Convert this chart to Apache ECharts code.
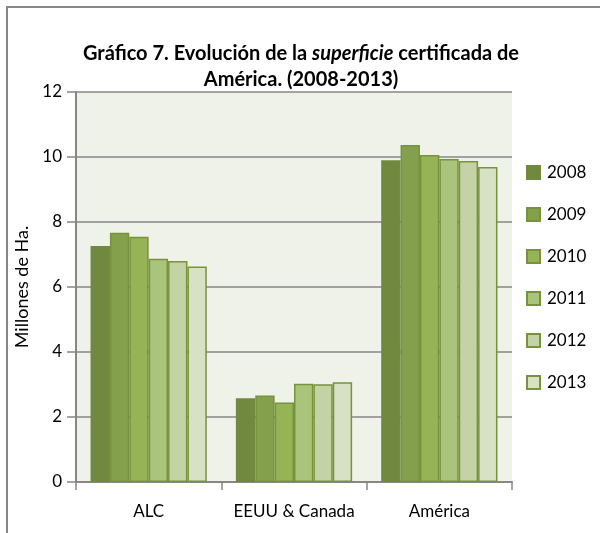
<!DOCTYPE html>
<html>
<head>
<meta charset="utf-8">
<script src="https://cdn.jsdelivr.net/npm/echarts@6/dist/echarts.min.js"></script>
<style>
  html, body { margin: 0; padding: 0; background: #fff; }
  #chart { width: 600px; height: 533px; }
</style>
</head>
<body>
<div id="chart"></div>
<script>
// datos (millones de ha)
const categorias = ['ALC', 'EEUU & Canada', 'América'];
const anios = ['2008', '2009', '2010', '2011', '2012', '2013'];
const v2008 = [7.26, 2.58, 9.90];
const v2009 = [7.67, 2.66, 10.37];
const v2010 = [7.55, 2.45, 10.06];
const v2011 = [6.87, 3.02, 9.94];
const v2012 = [6.80, 3.01, 9.88];
const v2013 = [6.63, 3.07, 9.69];
const valores = [v2008, v2009, v2010, v2011, v2012, v2013];
const colores = ['#71893F', '#84A04C', '#96B356', '#ABC47B', '#C3D3A6', '#D7E2C5'];

const chart = echarts.init(document.getElementById('chart'));
const fuente = 'Lato';

const option = {
  animation: false,
  textStyle: { fontFamily: fuente },
  graphic: [{
    type: 'rect',
    shape: { x: 7, y: 7, width: 620, height: 560 },
    style: { fill: 'none', stroke: '#878787', lineWidth: 2 },
    silent: true
  }],
  title: {
    text: '{b|Gráfico 7. Evolución de la }{i|superficie}{b| certificada de}\n{b|América. (2008-2013)}',
    left: 296,
    top: 36,
    textAlign: 'center',
    textStyle: {
      rich: {
        b: { fontFamily: fuente, fontWeight: 'bold', fontSize: 20, color: '#000', lineHeight: 26 },
        i: { fontFamily: fuente, fontWeight: 'bold', fontStyle: 'italic', fontSize: 20, color: '#000', lineHeight: 26 }
      }
    }
  },
  legend: {
    orient: 'vertical',
    left: 521,
    top: 159,
    itemWidth: 13,
    itemHeight: 13,
    itemGap: 25,
    icon: 'rect',
    data: anios,
    textStyle: { fontFamily: fuente, fontSize: 17, color: '#000', padding: [0, 0, 0, 2] }
  },
  grid: {
    left: 76,
    right: 88,
    top: 92,
    bottom: 51,
    show: true,
    backgroundColor: '#EFF2E9',
    borderWidth: 0
  },
  xAxis: {
    type: 'category',
    data: categorias,
    axisLine: { lineStyle: { color: '#878787', width: 2 } },
    axisTick: { show: true, length: 8, lineStyle: { color: '#878787', width: 1.5 } },
    axisLabel: { interval: 0, hideOverlap: false, fontFamily: fuente, fontSize: 17, color: '#000', margin: 21 }
  },
  yAxis: {
    type: 'value',
    min: 0,
    max: 12,
    interval: 2,
    name: 'Millones de Ha.',
    nameLocation: 'middle',
    nameGap: 41,
    nameTextStyle: { fontFamily: fuente, fontSize: 18, color: '#000' },
    axisLine: { show: true, lineStyle: { color: '#878787', width: 2 } },
    axisTick: { show: true, length: 9, lineStyle: { color: '#878787', width: 1.5 } },
    splitLine: { lineStyle: { color: '#878787', width: 1.5 } },
    axisLabel: { fontFamily: fuente, fontSize: 17, color: '#000', margin: 14 }
  },
  series: anios.map((a, i) => ({
    name: a,
    type: 'bar',
    data: valores[i],
    barGap: '0%',
    barCategoryGap: '20%',
    itemStyle: {
      color: colores[i],
      borderColor: i === 0 ? '#71893F' : '#77933C',
      borderWidth: 1.5
    }
  }))
};

chart.setOption(option);
</script>
</body>
</html>
